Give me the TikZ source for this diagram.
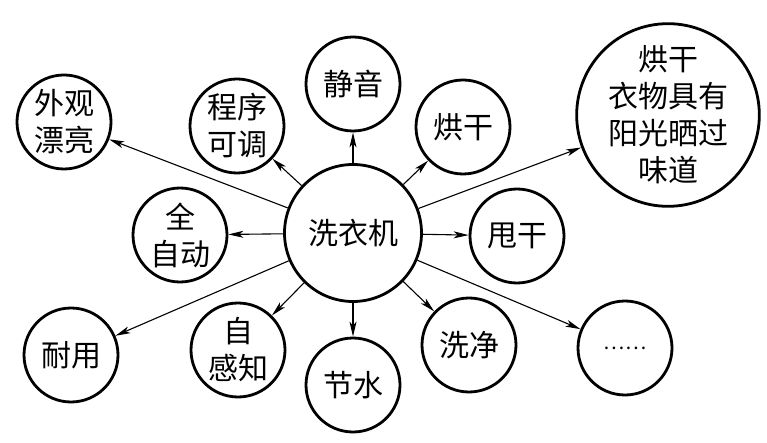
\documentclass[tikz,border=0pt]{standalone}
\usepackage{fontspec}
\newfontfamily\cjk{Noto Sans CJK SC}
\usetikzlibrary{arrows.meta}

\begin{document}
\begin{tikzpicture}[x=1pt, y=-1pt,
    bub/.style={circle, draw, line width=2.8pt, minimum size=94pt, inner sep=0pt, align=center,
        font=\cjk\fontsize{30}{37}\selectfont},
    link/.style={line width=1.1pt, -{Stealth[length=15pt, width=7pt, inset=4pt]}}]
    \useasboundingbox (0,0) rectangle (767,443);

    \node[bub, minimum size=137pt] (wm) at (353,233) {洗衣机};

    \node[bub] (look) at (64,122) {外观\\漂亮};
    \node[bub] (prog) at (237,126) {程序\\可调};
    \node[bub] (quiet) at (353,84) {静音};
    \node[bub] (dry) at (463,127) {烘干};
    \node[bub, minimum size=175pt] (sun) at (668,115) {烘干\\衣物具有\\阳光晒过\\味道};
    \node[bub] (auto) at (180,235) {全\\自动};
    \node[bub] (spin) at (517,236) {甩干};
    \node[bub] (last) at (71,355) {耐用};
    \node[bub] (sense) at (238,350) {自\\感知};
    \node[bub] (save) at (353,385) {节水};
    \node[bub] (clean) at (469,345) {洗净};
    \node[bub] (more) at (625,348) {\fontsize{20}{24}\selectfont ……};

    \draw[link] (wm) -- (look);
    \draw[link] (wm) -- (prog);
    \draw[link] (wm) -- (quiet);
    \draw[link] (wm) -- (dry);
    \draw[link] (wm) -- (sun);
    \draw[link] (wm) -- (auto);
    \draw[link] (wm) -- (spin);
    \draw[link] (wm) -- (last);
    \draw[link] (wm) -- (sense);
    \draw[link] (wm) -- (save);
    \draw[link] (wm) -- (clean);
    \draw[link] (wm) -- (more);
\end{tikzpicture}
\end{document}
